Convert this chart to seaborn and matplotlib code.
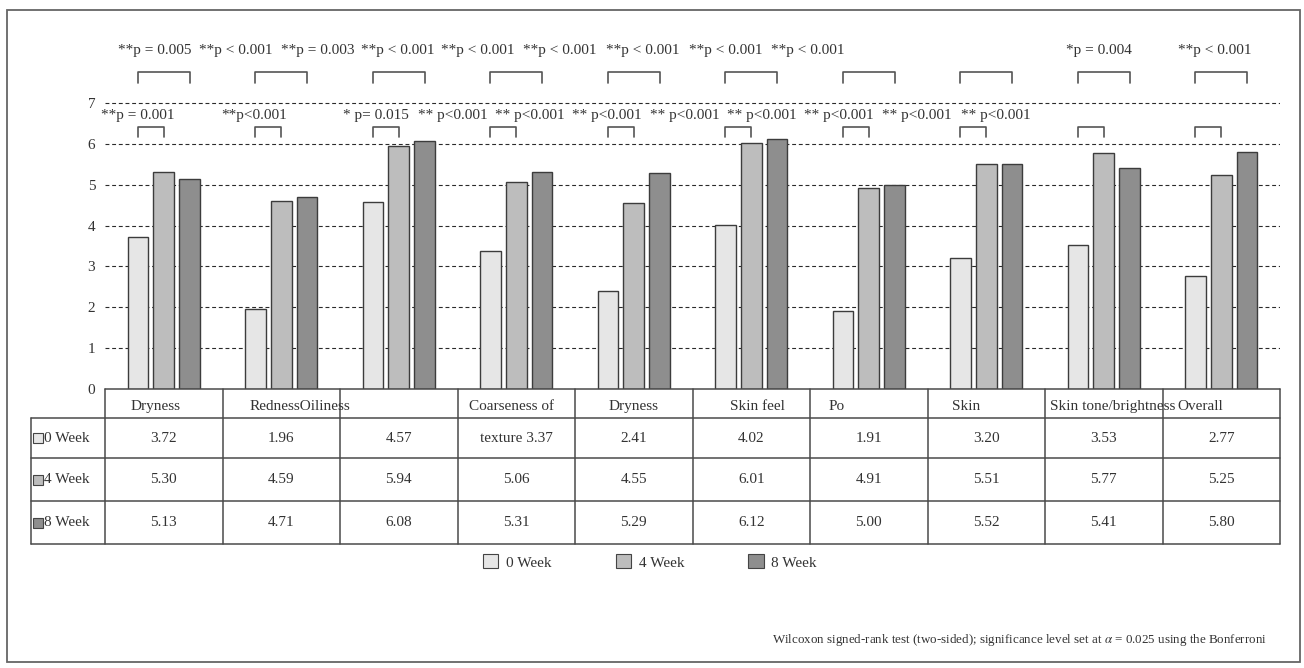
import numpy as np
import pandas as pd
import matplotlib
matplotlib.use("Agg")
import matplotlib.pyplot as plt
from matplotlib.patches import Patch, Rectangle
import seaborn as sns

# Mean scores per skin attribute at each visit
weeks = ["0 Week", "4 Week", "8 Week"]
week0 = [3.72, 1.96, 4.57, 3.37, 2.41, 4.02, 1.91, 3.20, 3.53, 2.77]
week4 = [5.30, 4.59, 5.94, 5.06, 4.55, 6.01, 4.91, 5.51, 5.77, 5.25]
week8 = [5.13, 4.71, 6.08, 5.31, 5.29, 6.12, 5.00, 5.52, 5.41, 5.80]
colors = ["#e6e6e6", "#bdbdbd", "#8e8e8e"]

# Column headings of the value table, as typeset
header_labels = ["Dryness", "RednessOiliness", "", "Coarseness of", "Dryness",
                 "Skin feel", "Po", "Skin", "Skin tone/brightness", "Overall"]
header_x = [-0.07, 0.73, 2.0, 2.96, 4.0, 5.05, 5.66, 6.71, 7.54, 8.63]
header_ha = ["center", "left", "center", "center", "center",
             "center", "left", "left", "left", "left"]
wrapped_col = 3          # heading continues into the first value row
wrapped_text = "texture"

# Significance labels: 0 vs 8 week (upper row) and 0 vs 4 week (lower row)
p_upper = ["**p = 0.005", "**p < 0.001", "**p = 0.003", "**p < 0.001",
           "**p < 0.001", "**p < 0.001", "**p < 0.001", "**p < 0.001",
           "**p < 0.001", "*p = 0.004", "**p < 0.001"]
p_upper_x = [-0.08, 0.615, 1.313, 1.994, 2.674, 3.372, 4.079, 4.785,
             5.483, 7.96, 8.947]
p_lower = ["**p = 0.001", "**p<0.001", "* p= 0.015"] + ["** p<0.001"] * 8
p_lower_x = [-0.22, 0.77, 1.81, 2.462, 3.117, 3.772, 4.436, 5.091,
             5.747, 6.411, 7.083]
yticks = [0, 1, 2, 3, 4, 5, 6, 7]

W, H = 1304, 668
sns.set_style("white")
plt.rcParams["font.family"] = ["Liberation Serif", "DejaVu Serif"]
plt.rcParams["mathtext.fontset"] = "stix"
TXT = "#333333"
FS = 11


def px_box(left, top, right, bottom):
    return [left / W, 1 - bottom / H, (right - left) / W, (bottom - top) / H]


n = len(week0)
df = pd.DataFrame({
    "item": np.tile(np.arange(n), 3),
    "score": week0 + week4 + week8,
    "week": np.repeat(weeks, n),
})

fig = plt.figure(figsize=(W / 100, H / 100), dpi=100)
fig.patch.set_facecolor("white")

UNIT = 40.85  # pixels per score point
TABLE_TOP = 389
ax = fig.add_axes(px_box(105, TABLE_TOP - 8.8 * UNIT, 1280, TABLE_TOP))
bar_w = 0.66
sns.barplot(data=df, x="item", y="score", hue="week", hue_order=weeks,
            palette=colors, width=bar_w, gap=0.2, errorbar=None,
            edgecolor="#3c3c3c", linewidth=1.0, legend=False, ax=ax, zorder=3)
ax.set_xlim(-0.5, n - 0.5)
ax.set_ylim(0, 8.8)
ax.set_xticks([])
ax.set_yticks(yticks)
ax.set_yticklabels([str(t) for t in yticks], fontsize=FS, color=TXT)
ax.tick_params(axis="y", length=0, pad=7)
ax.set_xlabel("")
ax.set_ylabel("")
for s in ax.spines.values():
    s.set_visible(False)
for t in yticks[1:]:
    ax.axhline(t, color="#2a2a2a", lw=0.8, ls=(0, (3.5, 2.5)), zorder=1)

# Comparison brackets
offset = bar_w / 3
bk = dict(color="#555555", lw=1.2, clip_on=False, zorder=4)
for i in range(n):
    x0, x4, x8 = i - offset, i, i + offset
    ax.plot([x0, x0, x8, x8], [7.48, 7.75, 7.75, 7.48], **bk)
    ax.plot([x0, x0, x4, x4], [6.16, 6.41, 6.41, 6.16], **bk)
for s, x in zip(p_upper, p_upper_x):
    ax.text(x, 8.28, s, ha="center", va="center", fontsize=FS, color=TXT, clip_on=False)
for s, x in zip(p_lower, p_lower_x):
    ax.text(x, 6.69, s, ha="center", va="center", fontsize=FS, color=TXT, clip_on=False)

# Value table under the bars (vertical axis in pixel rows)
row_edges = [TABLE_TOP, 418, 458, 501, 544]
tab = fig.add_axes(px_box(105, row_edges[0], 1280, row_edges[-1]))
tab.set_xlim(-0.5, n - 0.5)
tab.set_ylim(row_edges[-1], row_edges[0])
tab.axis("off")
label_left = -0.5 - (105 - 31) / 117.5
lk = dict(color="#4a4a4a", lw=1.1, clip_on=False)
tab.plot([-0.5, n - 0.5], [row_edges[0]] * 2, **lk)
for r in row_edges[1:]:
    tab.plot([label_left, n - 0.5], [r, r], **lk)
for b in np.arange(-0.5, n, 1.0):
    tab.plot([b, b], [row_edges[0], row_edges[-1]], **lk)
tab.plot([label_left, label_left], [row_edges[1], row_edges[-1]], **lk)

head_y = (row_edges[0] + row_edges[1]) / 2 + 3
for s, x, ha in zip(header_labels, header_x, header_ha):
    tab.text(x, head_y, s, ha=ha, va="center", fontsize=FS, color=TXT, clip_on=False)

for r, (name, vals, c) in enumerate(zip(weeks, [week0, week4, week8], colors)):
    y = (row_edges[r + 1] + row_edges[r + 2]) / 2
    tab.plot([-1.07], [y], marker="s", ms=6.5, mfc=c, mec="#444444", mew=0.8, clip_on=False)
    tab.text(-1.02, y, name, ha="left", va="center", fontsize=FS, color=TXT, clip_on=False)
    for i, v in enumerate(vals):
        s = f"{v:.2f}"
        if r == 0 and i == wrapped_col:
            s = f"{wrapped_text} {s}"
        tab.text(i, y, s, ha="center", va="center", fontsize=FS, color=TXT, clip_on=False)

# Legend
handles = [Patch(facecolor=c, edgecolor="#444444", lw=0.8) for c in colors]
fig.legend(handles, weeks, loc="center", bbox_to_anchor=(650 / W, 1 - 562 / H),
           ncol=3, frameon=False, fontsize=FS, handlelength=1.0, handleheight=1.0,
           handletextpad=0.5, columnspacing=4.2, labelcolor=TXT)

# Footnote
fig.text(1267 / W, 1 - 640 / H,
         r"Wilcoxon signed-rank test (two-sided); significance level set at $\alpha$ = 0.025 using the Bonferroni",
         ha="right", va="center", fontsize=9.4, color=TXT)

# Outer frame
fig.add_artist(Rectangle((7 / W, 1 - 662 / H), (1300 - 7) / W, (662 - 10) / H,
                         transform=fig.transFigure, fill=False, ec="#666666", lw=1.3))

fig.savefig("out.png", dpi=100)
